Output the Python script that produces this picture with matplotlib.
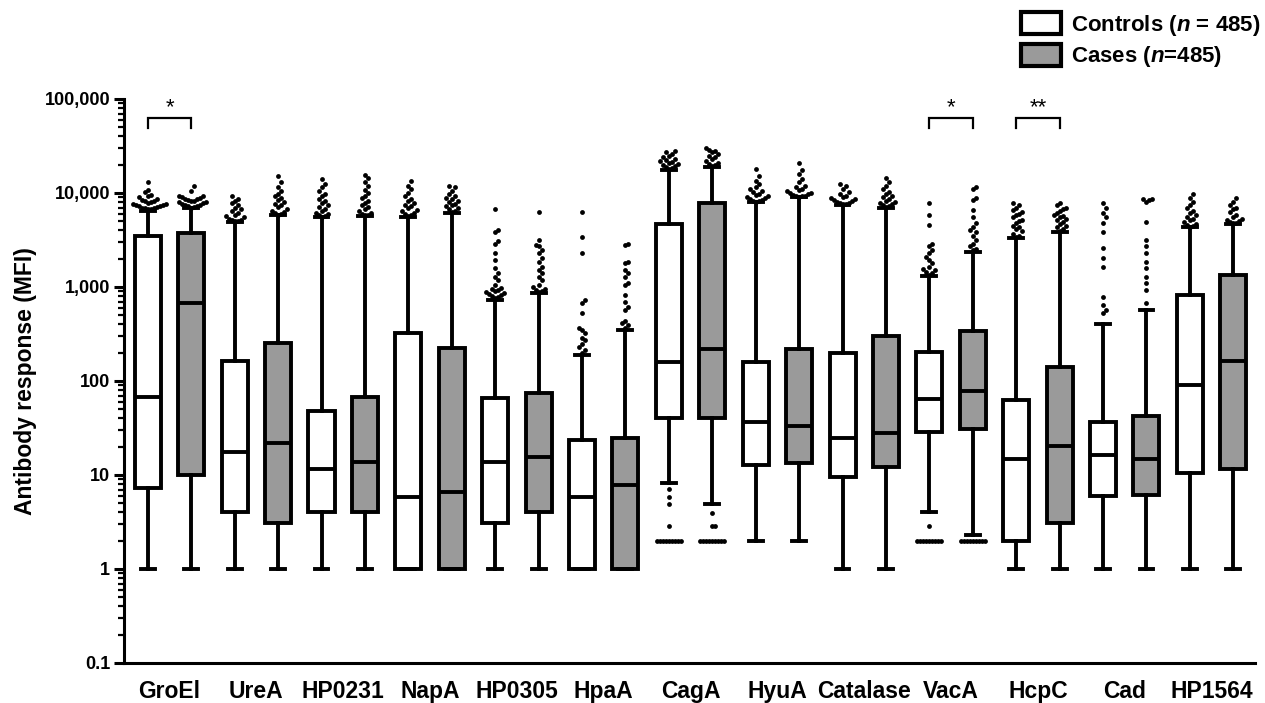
import matplotlib
matplotlib.use("Agg")
import matplotlib.pyplot as plt
import numpy as np
from matplotlib.patches import Patch
from matplotlib.ticker import FixedLocator, LogLocator, FuncFormatter, NullFormatter

plt.rcParams['font.family'] = 'Liberation Sans'
plt.rcParams['font.weight'] = 'bold'
plt.rcParams['mathtext.fontset'] = 'custom'
plt.rcParams['mathtext.it'] = 'Liberation Sans:italic:bold'
plt.rcParams['mathtext.rm'] = 'Liberation Sans:bold'

antigens = ["GroEl", "UreA", "HP0231", "NapA", "HP0305", "HpaA", "CagA",
            "HyuA", "Catalase", "VacA", "HcpC", "Cad", "HP1564"]

# controls: whisker low, Q1, median, Q3, whisker high
ctrl_low = [1, 1, 1, 1, 1, 1, 8.2, 2, 1, 4.0, 1, 1, 1]
ctrl_q1 = [7.3, 4.0, 4.0, 1, 3.1, 1, 40, 12.8, 9.5, 28.7, 2.0, 6.0, 10.5]
ctrl_med = [67, 17.6, 11.6, 5.8, 13.7, 5.8, 160, 36.6, 25, 64.5, 14.8, 16.3, 91]
ctrl_q3 = [3500, 163, 48, 325, 66, 23.5, 4700, 160, 199, 203, 63, 36.6, 820]
ctrl_high = [6500, 4900, 5500, 5600, 730, 190, 17500, 8000, 7500, 1300, 3300, 400, 4300]
ctrl_out = [
    [6700, 6800, 6900, 7000, 7000, 7100, 7200, 7300, 7400, 7500, 7600, 7700, 7800, 8000,
     8200, 8300, 8500, 8700, 9000, 9200, 9500, 10300, 10800, 13000],
    [5000, 5000, 5100, 5200, 5300, 5500, 5700, 5900, 6200, 6500, 6800, 7000, 7400, 7800,
     8200, 8700, 9300],
    [5600, 5700, 5800, 6000, 6200, 6500, 6800, 7100, 7400, 7800, 8200, 8700, 9200, 9800,
     10500, 11500, 12500, 14000],
    [5700, 5800, 6000, 6200, 6400, 6600, 6900, 7200, 7500, 7800, 8200, 8700, 9300, 9900,
     11000, 12000, 13500],
    [760, 780, 800, 820, 840, 860, 880, 900, 920, 950, 980, 1050, 1190, 1280, 1400, 1590,
     1920, 2300, 2900, 3100, 3800, 4000, 6700],
    [200, 214, 230, 245, 270, 290, 325, 350, 365, 530, 680, 730, 2300, 3400, 6300],
    [18000, 18500, 19000, 19500, 20000, 20500, 21000, 21500, 22000, 22500, 23000, 24000,
     25000, 26000, 27000, 28000, 7.1, 5.8, 4.9, 2.9, 2, 2, 2, 2, 2, 2, 2, 2, 2],
    [8100, 8200, 8300, 8400, 8600, 8800, 9000, 9200, 9500, 9800, 10200, 10600, 11000,
     11500, 12500, 13500, 15000, 18000],
    [7600, 7700, 7800, 7900, 8000, 8200, 8400, 8600, 8800, 9000, 9400, 9800, 10300, 11000,
     11800, 12500],
    [1350, 1400, 1450, 1500, 1550, 1640, 1790, 1930, 2060, 2300, 2450, 2700, 2900, 4600,
     5800, 7800, 2.9, 2, 2, 2, 2, 2, 2, 2, 2, 2],
    [3400, 3500, 3700, 3900, 4100, 4300, 4500, 4800, 5000, 5200, 5500, 5800, 6000, 6300,
     6600, 7000, 7400, 7900],
    [530, 570, 640, 780, 1640, 2030, 2600, 3800, 4800, 5500, 6100, 6900, 7800],
    [4400, 4500, 4600, 4700, 4900, 5100, 5300, 5600, 5900, 6200, 6500, 6900, 7400, 8000,
     8800, 9800],
]

# cases
case_low = [1, 1, 1, 1, 1, 1, 4.9, 2, 1, 2.3, 1, 1, 1]
case_q1 = [10, 3.1, 4.0, 1, 4.0, 1, 40, 13.4, 12.2, 30.8, 3.1, 6.1, 11.6]
case_med = [675, 22, 13.7, 6.6, 15.5, 7.8, 220, 33, 28, 78, 20.3, 14.8, 163]
case_q3 = [3750, 253, 67.5, 225, 74, 25, 7800, 220, 300, 340, 141, 42, 1350]
case_high = [6900, 5800, 5700, 6200, 860, 350, 19000, 9000, 7000, 2350, 3850, 570, 4700]
case_out = [
    [7000, 7100, 7200, 7300, 7400, 7500, 7600, 7800, 8000, 8100, 8200, 8300, 8500, 8600,
     8700, 8800, 9000, 9200, 9400, 10500, 11800],
    [5900, 6000, 6100, 6300, 6500, 6800, 7100, 7400, 7700, 8000, 8400, 8800, 9200, 9800,
     10500, 11500, 13000, 15000],
    [5800, 5900, 6000, 6200, 6500, 6800, 7100, 7500, 7900, 8300, 8800, 9300, 10000, 10800,
     11800, 13000, 14500, 15500],
    [6300, 6500, 6700, 6900, 7200, 7400, 7700, 8000, 8300, 8600, 8900, 9300, 9800, 10500,
     11500, 12000],
    [880, 900, 920, 950, 1000, 1050, 1190, 1280, 1400, 1520, 1640, 1850, 2050, 2300, 2500,
     2700, 2800, 3200, 6300],
    [370, 390, 410, 430, 570, 610, 690, 820, 1050, 1100, 1280, 1400, 1520, 1790, 1850,
     2800, 2900],
    [19500, 20000, 20500, 21000, 22000, 23000, 24000, 25000, 26000, 27000, 28000, 29000,
     30000, 3.9, 2.9, 2.9, 2, 2, 2, 2, 2, 2, 2, 2, 2],
    [9100, 9200, 9300, 9400, 9500, 9700, 9900, 10100, 10400, 10700, 11000, 11500, 12000,
     13000, 14000, 16000, 17500, 21000],
    [7100, 7200, 7400, 7600, 7800, 8000, 8300, 8600, 9000, 9400, 9800, 10300, 11000, 12000,
     13000, 14500],
    [2450, 2550, 2700, 2900, 3200, 3500, 3800, 4000, 4400, 4800, 5500, 6600, 8400, 8800,
     11000, 11500, 2, 2, 2, 2, 2, 2, 2, 2, 2],
    [3950, 4100, 4300, 4500, 4700, 4900, 5100, 5300, 5500, 5700, 5900, 6100, 6400, 6700,
     7000, 7400, 7800],
    [670, 930, 1100, 1280, 1590, 1850, 2300, 2700, 3200, 4900, 8000, 8400, 8600, 8600],
    [4800, 4850, 4900, 5000, 5100, 5300, 5600, 5900, 6300, 6700, 7000, 7500, 8100, 8900],
]

# significance: (antigen index, label)
sig_marks = [(0, "*"), (9, "*"), (10, "**")]

fig = plt.figure(figsize=(12.65, 7.03), dpi=100)
ax = fig.add_axes([0.098, 0.0569, 0.8941, 0.8023])
ax.set_yscale('log')
ax.set_ylim(0.1, 1e5)
ax.set_xlim(-0.55, 25.5)

stats = []
outs = []
for i in range(len(antigens)):
    stats.append(dict(whislo=ctrl_low[i], q1=ctrl_q1[i], med=ctrl_med[i],
                      q3=ctrl_q3[i], whishi=ctrl_high[i], fliers=[]))
    stats.append(dict(whislo=case_low[i], q1=case_q1[i], med=case_med[i],
                      q3=case_q3[i], whishi=case_high[i], fliers=[]))
    outs.append(ctrl_out[i])
    outs.append(case_out[i])

positions = np.arange(len(stats))
lw = 2.8
bp = ax.bxp(stats, positions=positions, widths=0.6, capwidths=0.32,
            patch_artist=True, showfliers=False,
            boxprops=dict(linewidth=lw, edgecolor='black'),
            whiskerprops=dict(linewidth=lw, color='black'),
            capprops=dict(linewidth=lw, color='black'),
            medianprops=dict(linewidth=lw, color='black'))
for j, box in enumerate(bp['boxes']):
    box.set_facecolor('white' if j % 2 == 0 else '#9a9a9a')


# simple beeswarm for the outlier dots, done in pixel space
def swarm(xc, vals, step=1.0, gap_x=3.0, gap_y=6.0):
    vals = np.asarray(vals, dtype=float)
    pts = ax.transData.transform(np.column_stack([np.full(len(vals), xc), vals]))
    offsets = [0.0] + [s * k * step for k in range(1, 80) for s in (1, -1)]
    placed = []
    for py in np.sort(pts[:, 1]):
        px = pts[0, 0]
        for off in offsets:
            ok = True
            for qx, qy in placed:
                if abs(px + off - qx) < gap_x and abs(py - qy) < gap_y:
                    ok = False
                    break
            if ok:
                break
        placed.append((px + off, py))
    return ax.transData.inverted().transform(np.array(placed))


for p, vals in zip(positions, outs):
    xy = swarm(p, vals)
    ax.scatter(xy[:, 0], xy[:, 1], s=12, color='black', linewidths=0, zorder=3, clip_on=False)

# significance brackets
for k, lab in sig_marks:
    x0, x1 = 2 * k, 2 * k + 1
    ax.plot([x0, x0, x1, x1], [49000, 63000, 63000, 49000], color='black', lw=1.6,
            clip_on=False, solid_joinstyle='miter')
    ax.text((x0 + x1) / 2, 80000, lab, ha='center', va='center', fontsize=16,
            fontweight='normal')

# axes styling
for s in ['top', 'right']:
    ax.spines[s].set_visible(False)
ax.spines['left'].set_linewidth(2.2)
ax.spines['bottom'].set_linewidth(2.2)

ax.yaxis.set_major_locator(FixedLocator([0.1, 1, 10, 100, 1000, 10000, 100000]))
ax.yaxis.set_major_formatter(FuncFormatter(lambda v, _: '0.1' if v < 1 else f'{int(round(v)):,}'))
ax.yaxis.set_minor_locator(LogLocator(base=10, subs=np.arange(2, 10)))
ax.yaxis.set_minor_formatter(NullFormatter())
ax.tick_params(axis='y', which='major', length=7, width=2.2, labelsize=13, pad=3)
ax.tick_params(axis='y', which='minor', length=4, width=1.6)

ax.set_xticks(np.arange(len(antigens)) * 2 + 0.5)
ax.set_xticklabels(antigens)
ax.tick_params(axis='x', length=0, labelsize=16.5, pad=12)

ax.set_ylabel("Antibody response (MFI)", fontsize=16.5, fontweight='bold')
ax.yaxis.set_label_coords(-0.077, 0.5)

handles = [Patch(facecolor='white', edgecolor='black', linewidth=3),
           Patch(facecolor='#9a9a9a', edgecolor='black', linewidth=3)]
fig.legend(handles, ["Controls ($n$ = 485)", "Cases ($n$=485)"],
           loc='upper left', bbox_to_anchor=(1021 / 1265, 1 - 12 / 703),
           frameon=False, fontsize=16, handlelength=1.8, handleheight=1.15,
           handletextpad=0.45, labelspacing=0.28, borderpad=0, borderaxespad=0)

fig.savefig("out.png", dpi=100)
